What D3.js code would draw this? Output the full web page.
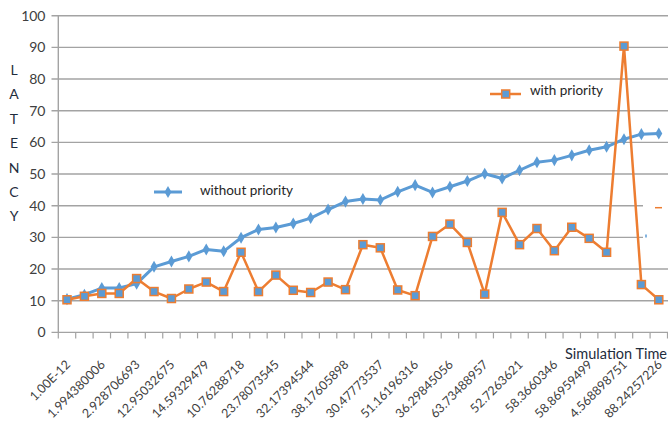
<!DOCTYPE html>
<html>
<head>
<meta charset="utf-8">
<script src="https://cdn.jsdelivr.net/npm/d3@7"></script>
<style>
  html, body { margin: 0; padding: 0; background: #fff; }
  svg { display: block; font-family: Lato, "Open Sans", sans-serif; }
</style>
</head>
<body>
<svg id="chart" width="668" height="434"></svg>
<script>
// Simulation time samples (every second one is labelled on the axis)
const tickLabels = [
  "1.00E-12", "1.994380006", "2.928706693", "12.95032675", "14.59329479",
  "10.76288718", "23.78073545", "32.17394544", "38.17605898", "30.47773537",
  "51.16196316", "36.29845056", "63.73488957", "52.7263621", "58.3660346",
  "58.86959499", "4.568898751", "88.24257226"
];
const sampleCount = 35;

// Latency without priority
const withoutPriority = [
  10.5, 11.9, 14.0, 14.0, 15.4, 20.7, 22.4, 24.0, 26.2, 25.6,
  29.9, 32.5, 33.1, 34.4, 36.1, 38.8, 41.3, 42.1, 41.8, 44.4,
  46.5, 44.2, 46.0, 47.8, 50.1, 48.6, 51.2, 53.7, 54.4, 55.9,
  57.5, 58.6, 61.0, 62.6, 62.8
];

// Latency with priority
const withPriority = [
  10.3, 11.4, 12.3, 12.3, 17.0, 12.9, 10.7, 13.7, 15.9, 12.9,
  25.3, 12.9, 18.1, 13.3, 12.6, 15.9, 13.5, 27.7, 26.7, 13.4,
  11.6, 30.3, 34.2, 28.4, 12.1, 37.9, 27.7, 32.8, 25.8, 33.2,
  29.7, 25.3, 90.4, 15.1, 10.3
];

const yTicks = [0, 10, 20, 30, 40, 50, 60, 70, 80, 90, 100];

const blue = "#5b9bd5";
const orange = "#ed7d31";
const gridColor = "#a3a3a3";
const axisText = "#404040";
const titleColor = "#1f2d3d";

const svg = d3.select("#chart");

const x = d3.scaleBand()
  .domain(d3.range(sampleCount))
  .range([58.3, 667.5]);

const y = d3.scaleLinear()
  .domain([0, 100])
  .range([332.4, 15.7]);

const cx = i => x(i) + x.bandwidth() / 2;

// horizontal gridlines (with the short outward tick on the left)
svg.append("g")
  .selectAll("line")
  .data(yTicks)
  .join("line")
  .attr("x1", 51.5)
  .attr("x2", 668)
  .attr("y1", d => y(d))
  .attr("y2", d => y(d))
  .attr("stroke", gridColor)
  .attr("stroke-width", 1.4);

// y axis line
svg.append("line")
  .attr("x1", x.range()[0]).attr("x2", x.range()[0])
  .attr("y1", y(100)).attr("y2", y(0))
  .attr("stroke", gridColor)
  .attr("stroke-width", 1.4);

// y tick labels
svg.append("g")
  .selectAll("text")
  .data(yTicks)
  .join("text")
  .attr("x", 45.5)
  .attr("y", d => y(d))
  .attr("dy", "0.36em")
  .attr("text-anchor", "end")
  .attr("font-size", 14)
  .attr("fill", axisText)
  .text(d => d);

// x axis tick marks at sample boundaries
const boundaries = d3.range(sampleCount).map(i => x(i)).concat([x.range()[1]]);
svg.append("g")
  .selectAll("line")
  .data(boundaries)
  .join("line")
  .attr("x1", d => d).attr("x2", d => d)
  .attr("y1", y(0)).attr("y2", y(0) + 6)
  .attr("stroke", gridColor)
  .attr("stroke-width", 1.2);

// x tick labels, rotated
svg.append("g")
  .selectAll("text")
  .data(tickLabels)
  .join("text")
  .attr("transform", (d, k) => `translate(${cx(k * 2) + 4},${y(0) + 33}) rotate(-45)`)
  .attr("text-anchor", "end")
  .attr("font-size", 12.5)
  .attr("fill", axisText)
  .text(d => d);

// vertical axis title, one letter per line
const title = "LATENCY".split("");
svg.append("g")
  .selectAll("text")
  .data(title)
  .join("text")
  .attr("x", 14)
  .attr("y", (d, i) => 75 + i * 24.4)
  .attr("text-anchor", "middle")
  .attr("font-size", 14)
  .attr("fill", titleColor)
  .text(d => d);

// horizontal axis title
svg.append("text")
  .attr("x", 667)
  .attr("y", 359)
  .attr("text-anchor", "end")
  .attr("font-size", 14.5)
  .attr("fill", titleColor)
  .text("Simulation Time");

// cleared strip at the right edge
svg.append("rect")
  .attr("x", 643).attr("y", 198)
  .attr("width", 25).attr("height", 46)
  .attr("fill", "#fff");
svg.append("line")
  .attr("x1", 655).attr("x2", 662).attr("y1", 207.7).attr("y2", 207.7)
  .attr("stroke", orange).attr("stroke-width", 1.5);
svg.append("line")
  .attr("x1", 646).attr("x2", 646).attr("y1", 234.5).attr("y2", 237.5)
  .attr("stroke", blue).attr("stroke-width", 1.5);

const line = d3.line()
  .x((d, i) => cx(i))
  .y(d => y(d));

// series: without priority
svg.append("path")
  .datum(withoutPriority)
  .attr("d", line)
  .attr("fill", "none")
  .attr("stroke", blue)
  .attr("stroke-width", 3)
  .attr("stroke-linejoin", "round");

const diamond = d3.symbol().type(d3.symbolDiamond).size(42);
svg.append("g")
  .selectAll("path")
  .data(withoutPriority)
  .join("path")
  .attr("transform", (d, i) => `translate(${cx(i)},${y(d)})`)
  .attr("d", diamond)
  .attr("fill", blue);

// series: with priority
svg.append("path")
  .datum(withPriority)
  .attr("d", line)
  .attr("fill", "none")
  .attr("stroke", orange)
  .attr("stroke-width", 2.5)
  .attr("stroke-linejoin", "round");

svg.append("g")
  .selectAll("rect")
  .data(withPriority)
  .join("rect")
  .attr("x", (d, i) => cx(i) - 4)
  .attr("y", d => y(d) - 4)
  .attr("width", 8)
  .attr("height", 8)
  .attr("fill", blue)
  .attr("stroke", orange)
  .attr("stroke-width", 1.5);

// legends
const lgA = svg.append("g");
lgA.append("line")
  .attr("x1", 154).attr("x2", 182).attr("y1", 192).attr("y2", 192)
  .attr("stroke", blue).attr("stroke-width", 3);
lgA.append("path")
  .attr("transform", "translate(168,192)")
  .attr("d", diamond)
  .attr("fill", blue);
lgA.append("text")
  .attr("x", 200).attr("y", 190).attr("dy", "0.36em")
  .attr("font-size", 13.5)
  .attr("fill", "#262626")
  .text("without priority");

const lgB = svg.append("g");
lgB.append("line")
  .attr("x1", 490).attr("x2", 521).attr("y1", 94).attr("y2", 94)
  .attr("stroke", orange).attr("stroke-width", 2.5);
lgB.append("rect")
  .attr("x", 501.7).attr("y", 90).attr("width", 8).attr("height", 8)
  .attr("fill", blue).attr("stroke", orange).attr("stroke-width", 1.5);
lgB.append("text")
  .attr("x", 530).attr("y", 90).attr("dy", "0.36em")
  .attr("font-size", 13.5)
  .attr("fill", "#262626")
  .text("with priority");
</script>
</body>
</html>
